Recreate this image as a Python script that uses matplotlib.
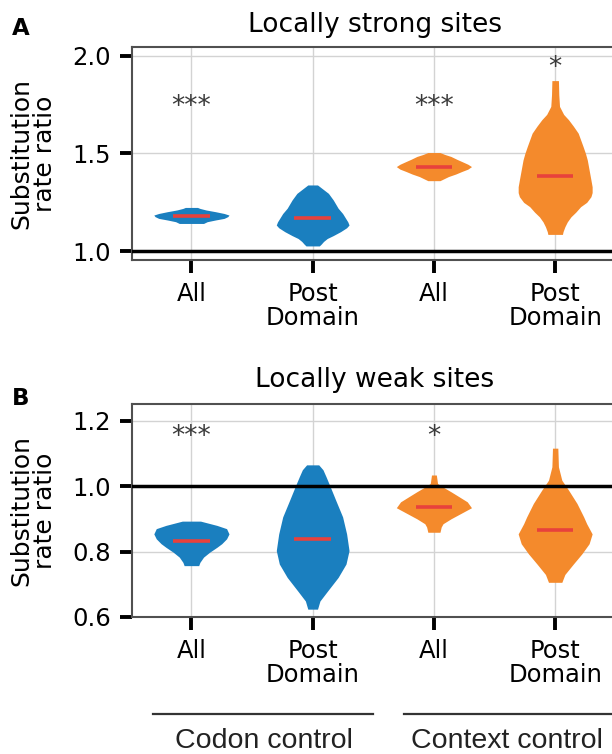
import matplotlib.pyplot as plt
import matplotlib.transforms as mtransforms

# ---------------- data ----------------
categories = ["All", "Post\nDomain", "All", "Post\nDomain"]
groups = ["Codon control", "Context control"]
violin_colors = ["#1a7fbf", "#1a7fbf", "#f48a2c", "#f48a2c"]

# Panel A: locally strong sites (violin profiles: y value, half width)
a_codon_all_y = [1.142, 1.151, 1.160, 1.168, 1.177, 1.185, 1.193, 1.202, 1.211, 1.219, 1.224]
a_codon_all_w = [0.10, 0.13, 0.20, 0.27, 0.30, 0.31, 0.27, 0.20, 0.12, 0.07, 0.05]
a_codon_post_y = [1.027, 1.036, 1.05, 1.065, 1.08, 1.10, 1.12, 1.134, 1.15, 1.17, 1.193, 1.22, 1.262, 1.296, 1.339]
a_codon_post_w = [0.055, 0.07, 0.09, 0.12, 0.17, 0.23, 0.28, 0.30, 0.29, 0.27, 0.247, 0.21, 0.17, 0.13, 0.04]
a_context_all_y = [1.361, 1.37, 1.382, 1.395, 1.408, 1.42, 1.433, 1.445, 1.459, 1.47, 1.485, 1.495, 1.505]
a_context_all_w = [0.05, 0.08, 0.12, 0.18, 0.23, 0.28, 0.31, 0.28, 0.23, 0.19, 0.14, 0.09, 0.05]
a_context_post_y = [1.086, 1.10, 1.125, 1.15, 1.176, 1.20, 1.228, 1.25, 1.279, 1.30, 1.330, 1.365,
                    1.399, 1.433, 1.467, 1.50, 1.536, 1.57, 1.604, 1.64, 1.673, 1.70, 1.741, 1.80, 1.873]
a_context_post_w = [0.06, 0.065, 0.08, 0.10, 0.13, 0.17, 0.21, 0.26, 0.295, 0.305, 0.305, 0.295,
                    0.285, 0.275, 0.265, 0.25, 0.23, 0.21, 0.19, 0.15, 0.11, 0.07, 0.036, 0.03, 0.027]
a_medians = [1.180, 1.171, 1.433, 1.385]
a_stars = ["***", "", "***", "*"]
a_star_y = [1.70, 0, 1.70, 1.90]

# Panel B: locally weak sites
b_codon_all_y = [0.757, 0.767, 0.783, 0.798, 0.813, 0.824, 0.839, 0.854, 0.870, 0.880, 0.893]
b_codon_all_w = [0.06, 0.07, 0.10, 0.15, 0.21, 0.25, 0.29, 0.31, 0.29, 0.21, 0.075]
b_codon_post_y = [0.624, 0.649, 0.68, 0.721, 0.762, 0.803, 0.854, 0.906, 0.957, 0.998, 1.029, 1.05, 1.065]
b_codon_post_w = [0.04, 0.06, 0.124, 0.21, 0.275, 0.30, 0.28, 0.247, 0.19, 0.145, 0.11, 0.085, 0.05]
b_context_all_y = [0.859, 0.875, 0.885, 0.90, 0.916, 0.934, 0.952, 0.967, 0.983, 0.996, 1.008, 1.034]
b_context_all_w = [0.05, 0.06, 0.075, 0.14, 0.22, 0.31, 0.275, 0.21, 0.14, 0.08, 0.03, 0.02]
b_context_post_y = [0.706, 0.73, 0.762, 0.793, 0.824, 0.854, 0.885, 0.906, 0.947, 0.988, 1.018, 1.059, 1.116]
b_context_post_w = [0.055, 0.08, 0.15, 0.22, 0.28, 0.305, 0.26, 0.235, 0.18, 0.11, 0.055, 0.027, 0.022]
b_medians = [0.833, 0.837, 0.935, 0.865]
b_stars = ["***", "", "*", ""]
b_star_y = [1.128, 0, 1.128, 0]

a_profiles = [(a_codon_all_y, a_codon_all_w), (a_codon_post_y, a_codon_post_w),
              (a_context_all_y, a_context_all_w), (a_context_post_y, a_context_post_w)]
b_profiles = [(b_codon_all_y, b_codon_all_w), (b_codon_post_y, b_codon_post_w),
              (b_context_all_y, b_context_all_w), (b_context_post_y, b_context_post_w)]

a_yticks = [1.0, 1.5, 2.0]
b_yticks = [0.6, 0.8, 1.0, 1.2]

# ---------------- figure ----------------
plt.rcParams['font.family'] = ['DejaVu Sans']
W, H = 612, 754
fig = plt.figure(figsize=(W / 100, H / 100), dpi=100)
axA = fig.add_axes([132 / W, 1 - 260 / H, 485 / W, 213 / H])
axB = fig.add_axes([132 / W, 1 - 617 / H, 485 / W, 213 / H])


def draw_panel(ax, profiles, medians, stars, star_y, ylim, yticks, title, tpad):
    positions = list(range(len(categories)))
    ax.set_xlim(-0.49, 3.51)
    ax.set_ylim(*ylim)
    ax.set_yticks(yticks)
    ax.set_yticklabels([f"{t:.1f}" for t in yticks])
    ax.set_xticks(positions)
    ax.set_xticklabels(categories, linespacing=1.05)
    ax.grid(True, color="#d3d3d3", lw=1.0, zorder=0)
    ax.set_axisbelow(True)
    for pos, (ys, ws), col in zip(positions, profiles, violin_colors):
        left = [pos - w for w in ws]
        right = [pos + w for w in ws]
        ax.fill_betweenx(ys, left, right, color=col, lw=0, zorder=2)
    for pos, m in zip(positions, medians):
        ax.hlines(m, pos - 0.15, pos + 0.15, color="#e8413c", lw=2.6, zorder=3)
    for pos, s, sy in zip(positions, stars, star_y):
        if s:
            ax.text(pos, sy, s, ha="center", va="baseline", fontsize=19, color="#3a3a3a", zorder=4)
    ax.axhline(1.0, color="black", lw=2.5, zorder=3)
    for sp in ax.spines.values():
        sp.set_color("#505050")
        sp.set_linewidth(1.5)
    ax.tick_params(axis="both", direction="out", length=9, width=2.8, color="black",
                   labelsize=17.5, labelcolor="black")
    ax.tick_params(axis="y", pad=6)
    ax.tick_params(axis="x", pad=6.5)
    ax.set_ylabel("Substitution\nrate ratio", fontsize=18, linespacing=0.95)
    ax.yaxis.set_label_coords(-0.155, 0.5)
    ax.set_title(title, fontsize=19, pad=tpad)


draw_panel(axA, a_profiles, a_medians, a_stars, a_star_y, (0.955, 2.045), a_yticks,
           "Locally strong sites", 10.5)
draw_panel(axB, b_profiles, b_medians, b_stars, b_star_y, (0.6, 1.251), b_yticks,
           "Locally weak sites", 12.0)

fig.text(12 / W, 1 - 35 / H, "A", fontsize=16.5, fontweight="bold", va="baseline")
fig.text(12 / W, 1 - 405 / H, "B", fontsize=16.5, fontweight="bold", va="baseline")

# group brackets
trans = mtransforms.blended_transform_factory(axB.transData, fig.transFigure)
group_line_x = [(-0.32, 1.5), (1.75, 3.6)]
group_text_x = [0.6, 2.6]
for (x0, x1), tx, g in zip(group_line_x, group_text_x, groups):
    axB.plot([x0, x1], [1 - 714 / H, 1 - 714 / H], color="#333333", lw=1.6,
             transform=trans, clip_on=False)
    axB.text(tx, 1 - 741 / H, g, transform=trans, ha="center", va="center",
             fontsize=20.5, family="Liberation Sans", color="#222222")

fig.savefig("out.png", dpi=100)
